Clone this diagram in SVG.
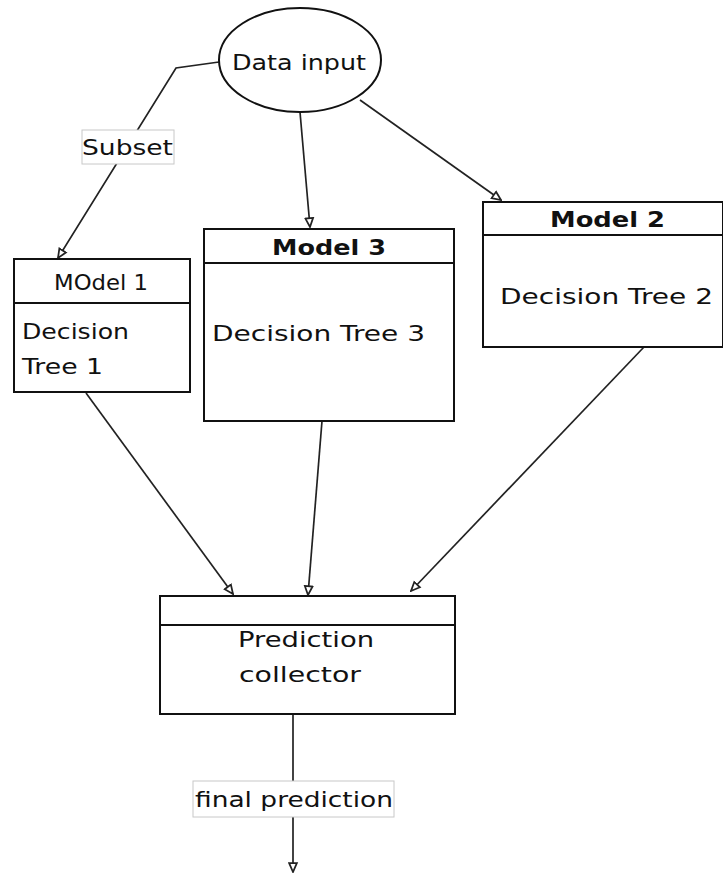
<svg xmlns="http://www.w3.org/2000/svg" width="723" height="874" viewBox="0 0 723 874">
<style>
.box{fill:#fff;stroke:#111;stroke-width:2}
.sep{fill:none;stroke:#111;stroke-width:2}
.t{font-family:"DejaVu Sans","Open Sans",sans-serif;font-size:21px;fill:#111}
.b{font-weight:bold}
.edge{fill:none;stroke:#222;stroke-width:1.7}
.lbl{fill:#fff;stroke:#c8c8c8;stroke-width:1}
</style>
<defs>
<marker id="arr" viewBox="0 0 10 10" refX="9" refY="5" markerWidth="11" markerHeight="11" markerUnits="userSpaceOnUse" orient="auto">
<path d="M1,1.5 L9,5 L1,8.5 Z" fill="#fff" stroke="#222" stroke-width="1.6"/>
</marker>
</defs>
<rect width="723" height="874" fill="#fff"/>
<g id="connectors">
<path class="edge" d="M219,62 L176,68 L58,258" marker-end="url(#arr)"/>
<path class="edge" d="M300,112 L310,227" marker-end="url(#arr)"/>
<path class="edge" d="M360,100 L501,200" marker-end="url(#arr)"/>
<path class="edge" d="M86,393 L233,594" marker-end="url(#arr)"/>
<path class="edge" d="M322,421 L308,595" marker-end="url(#arr)"/>
<path class="edge" d="M644,347 L411,591" marker-end="url(#arr)"/>
<path class="edge" d="M293,714 L293,872" marker-end="url(#arr)"/>
<g id="label-subset">
<rect class="lbl" x="82" y="130" width="92" height="34"/>
<text class="t" x="82" y="155" textLength="91" lengthAdjust="spacingAndGlyphs">Subset</text>
</g>
<g id="label-final">
<rect class="lbl" x="193" y="781" width="201" height="36"/>
<text class="t" x="195" y="807" textLength="198" lengthAdjust="spacingAndGlyphs">final prediction</text>
</g>
</g>
<g id="data-input">
<ellipse class="box" cx="300" cy="60" rx="81" ry="52"/>
<text class="t" x="232" y="70" textLength="134" lengthAdjust="spacingAndGlyphs">Data input</text>
</g>
<g id="model1">
<rect class="box" x="14" y="259" width="176" height="133"/>
<line class="sep" x1="14" y1="303" x2="190" y2="303"/>
<text class="t" x="54" y="290" textLength="94" lengthAdjust="spacingAndGlyphs">MOdel 1</text>
<text class="t" x="22" y="339" textLength="107" lengthAdjust="spacingAndGlyphs">Decision</text>
<text class="t" x="22" y="374" textLength="81" lengthAdjust="spacingAndGlyphs">Tree 1</text>
</g>
<g id="model3">
<rect class="box" x="204" y="229" width="250" height="192"/>
<line class="sep" x1="204" y1="263" x2="454" y2="263"/>
<text class="t b" x="272" y="255" textLength="114" lengthAdjust="spacingAndGlyphs">Model 3</text>
<text class="t" x="212" y="341" textLength="213" lengthAdjust="spacingAndGlyphs">Decision Tree 3</text>
</g>
<g id="model2">
<rect class="box" x="483" y="202" width="240" height="145"/>
<line class="sep" x1="483" y1="235" x2="723" y2="235"/>
<text class="t b" x="550" y="227" textLength="115" lengthAdjust="spacingAndGlyphs">Model 2</text>
<text class="t" x="500" y="304" textLength="213" lengthAdjust="spacingAndGlyphs">Decision Tree 2</text>
</g>
<g id="collector">
<rect class="box" x="160" y="596" width="295" height="118"/>
<line class="sep" x1="160" y1="625" x2="455" y2="625"/>
<text class="t" x="238" y="647" textLength="136" lengthAdjust="spacingAndGlyphs">Prediction</text>
<text class="t" x="239" y="682" textLength="122" lengthAdjust="spacingAndGlyphs">collector</text>
</g>
</svg>
